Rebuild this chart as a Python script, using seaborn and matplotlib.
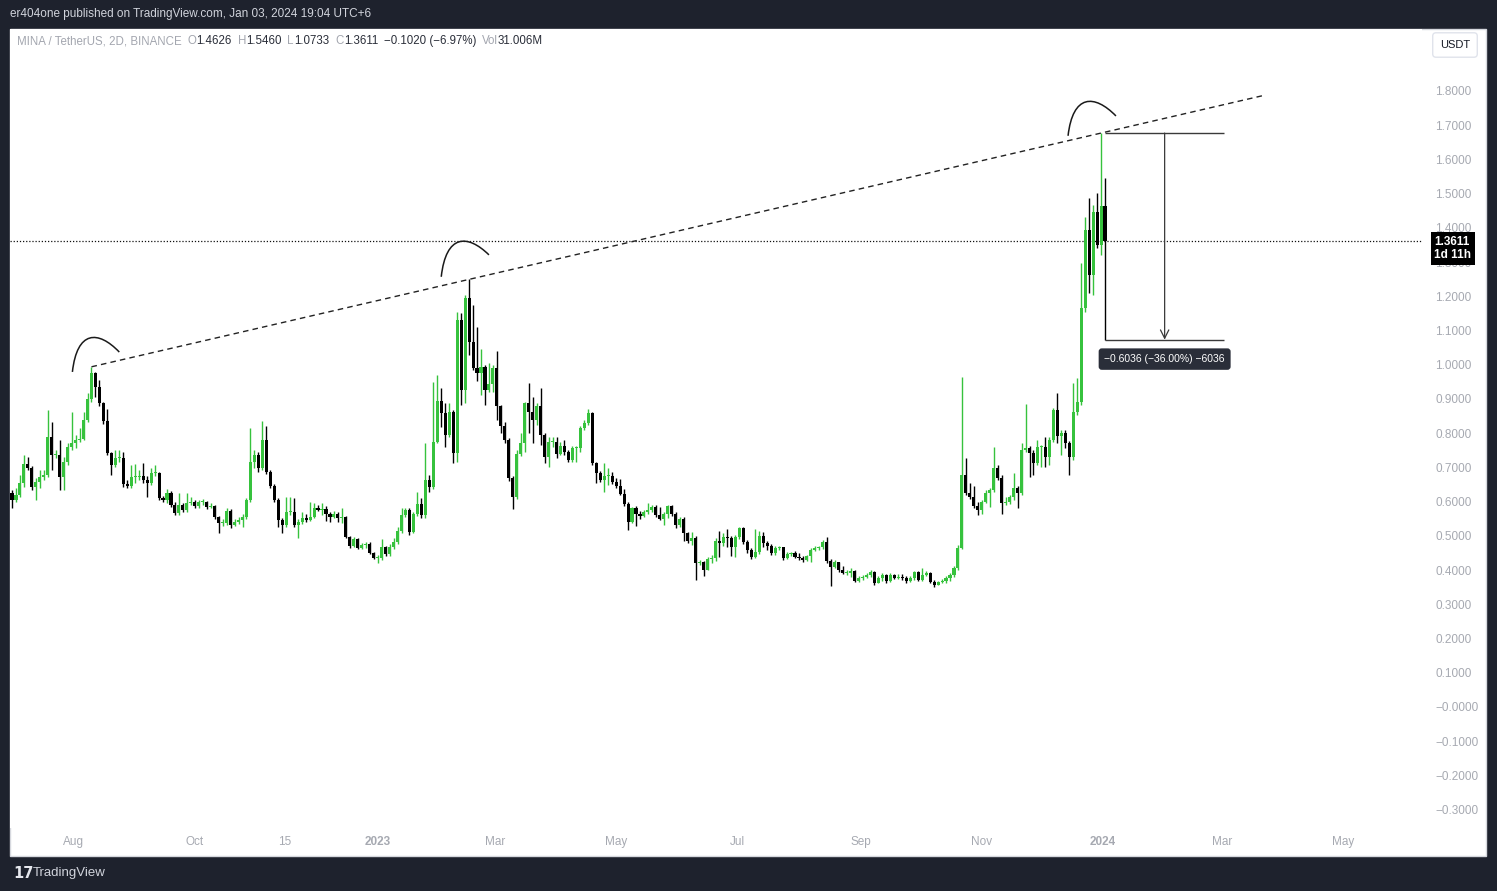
import numpy as np
import pandas as pd
import seaborn as sns
import matplotlib.pyplot as plt
import matplotlib.dates as mdates
from matplotlib.path import Path
from matplotlib.patches import PathPatch, Rectangle

# MINA/USDT 2D candles (open = previous close)
closes = [
    .605, .620, .655, .710, .698, .643, .658, .672, .678, .789,
    .736, .736, .672, .716, .760, .771, .780, .783, .839, .900,
    .976, .935, .888, .836, .742, .707, .728, .728, .652, .646,
    .672, .672, .675, .663, .655, .684, .684, .611, .605, .625,
    .590, .567, .590, .576, .596, .599, .587, .599, .599, .584,
    .587, .555, .538, .538, .573, .532, .541, .546, .555, .605,
    .716, .736, .698, .780, .687, .646, .605, .546, .532, .570,
    .570, .532, .541, .552, .546, .555, .582, .576, .579, .564,
    .555, .564, .552, .555, .497, .471, .491, .465, .473, .476,
    .450, .435, .435, .468, .447, .468, .482, .514, .561, .576,
    .512, .564, .593, .561, .663, .643, .774, .894, .859, .795,
    .862, .742, 1.131, .926, 1.195, 1.067, .991, .976, .994, .926,
    .944, .991, .880, .821, .780, .669, .614, .739, .771, .888,
    .862, .839, .880, .795, .731, .774, .774, .739, .763, .745,
    .722, .757, .757, .815, .830, .859, .713, .684, .663, .675,
    .675, .658, .646, .622, .593, .541, .582, .564, .558, .570,
    .576, .584, .561, .549, .564, .587, .564, .532, .549, .508,
    .485, .494, .421, .424, .400, .433, .435, .485, .479, .497,
    .494, .468, .497, .523, .482, .459, .438, .453, .500, .479,
    .471, .450, .465, .468, .435, .447, .450, .438, .435, .430,
    .441, .459, .465, .468, .482, .427, .409, .424, .400, .392,
    .392, .397, .368, .377, .380, .386, .395, .362, .377, .386,
    .368, .386, .377, .380, .377, .368, .377, .395, .371, .386,
    .392, .365, .357, .365, .368, .377, .386, .406, .465, .678,
    .625, .614, .587, .576, .599, .625, .634, .698, .669, .596,
    .599, .614, .640, .625, .751, .757, .742, .713, .760, .760,
    .731, .780, .868, .792, .801, .771, .731, .862, .891, 1.166,
    1.394, 1.262, 1.447, 1.350, 1.4626, 1.3611,
]
highs = [
    .634, .640, .678, .736, .731, .704, .669, .693, .693, .868,
    .833, .751, .780, .731, .771, .862, .795, .815, .862, .918,
    .994, .979, .956, .891, .871, .745, .751, .751, .745, .663,
    .707, .710, .693, .713, .675, .698, .707, .687, .617, .637,
    .631, .599, .625, .596, .625, .614, .605, .605, .608, .602,
    .596, .590, .558, .549, .582, .579, .549, .555, .564, .611,
    .815, .751, .745, .836, .821, .693, .652, .611, .552, .614,
    .614, .611, .549, .570, .564, .599, .596, .590, .596, .587,
    .570, .573, .570, .582, .558, .500, .497, .494, .479, .482,
    .482, .453, .444, .491, .471, .476, .494, .526, .582, .582,
    .582, .570, .628, .611, .771, .678, .950, .970, .932, .888,
    .888, .868, 1.154, 1.151, 1.204, 1.251, 1.175, 1.111, 1.046, .999,
    1.005, .999, 1.040, .883, .833, .786, .675, .751, .801, .891,
    .947, .906, .888, .932, .801, .789, .789, .789, .774, .780,
    .751, .763, .763, .821, .839, .871, .862, .716, .690, .713,
    .698, .687, .669, .666, .637, .599, .584, .587, .573, .576,
    .596, .590, .590, .584, .570, .590, .590, .570, .555, .555,
    .511, .511, .500, .430, .427, .438, .444, .494, .514, .508,
    .520, .500, .503, .526, .526, .488, .465, .520, .514, .511,
    .485, .476, .471, .471, .468, .453, .453, .456, .450, .441,
    .444, .465, .471, .471, .488, .497, .433, .430, .424, .412,
    .400, .406, .400, .383, .386, .392, .400, .397, .383, .392,
    .389, .392, .389, .389, .389, .383, .383, .397, .397, .406,
    .397, .395, .371, .368, .374, .383, .392, .412, .473, .964,
    .728, .655, .646, .599, .605, .634, .640, .760, .707, .678,
    .614, .620, .684, .646, .771, .886, .763, .751, .780, .766,
    .789, .789, .874, .918, .809, .809, .777, .947, .961, 1.298,
    1.432, 1.487, 1.467, 1.502, 1.6769, 1.546,
]
lows = [
    .582, .599, .614, .643, .693, .634, .605, .640, .663, .672,
    .693, .728, .634, .634, .707, .751, .757, .774, .780, .833,
    .891, .906, .880, .827, .736, .678, .701, .716, .643, .640,
    .640, .655, .663, .655, .614, .649, .675, .605, .599, .596,
    .584, .561, .561, .570, .570, .590, .582, .582, .590, .579,
    .582, .549, .508, .529, .532, .523, .529, .535, .526, .549,
    .599, .698, .687, .693, .681, .640, .599, .526, .508, .526,
    .561, .526, .494, .535, .541, .544, .552, .573, .561, .544,
    .541, .552, .541, .538, .494, .465, .468, .462, .462, .465,
    .447, .433, .421, .430, .441, .441, .462, .476, .508, .555,
    .503, .508, .558, .552, .552, .628, .637, .771, .818, .760,
    .789, .713, .716, .883, .888, 1.029, .985, .953, .912, .883,
    .921, .921, .839, .801, .771, .661, .579, .608, .734, .745,
    .801, .771, .824, .766, .713, .701, .760, .728, .736, .736,
    .716, .716, .716, .745, .809, .824, .707, .655, .658, .628,
    .649, .652, .640, .620, .587, .517, .538, .529, .549, .555,
    .564, .570, .555, .546, .532, .552, .558, .523, .526, .485,
    .479, .473, .371, .415, .383, .400, .421, .427, .438, .471,
    .468, .441, .438, .491, .476, .450, .433, .435, .447, .468,
    .459, .444, .444, .459, .430, .433, .441, .435, .430, .424,
    .427, .424, .456, .459, .462, .421, .354, .406, .395, .389,
    .386, .380, .365, .365, .371, .377, .380, .357, .362, .368,
    .362, .365, .374, .374, .371, .362, .365, .371, .368, .368,
    .383, .362, .351, .357, .362, .362, .368, .380, .400, .462,
    .620, .608, .582, .561, .564, .596, .584, .628, .663, .564,
    .590, .593, .605, .582, .620, .745, .672, .678, .707, .701,
    .701, .707, .774, .771, .736, .757, .678, .722, .853, .883,
    1.154, 1.210, 1.204, 1.341, 1.321, 1.0733,
]
first_open = 0.625
last_date = pd.Timestamp('2024-01-02')

# peaks the trendline and the arcs are drawn on
peak_idx = [20, 115, 274]
trend_end = pd.Timestamp('2024-03-21')
# arcs: (peak, days left, days right, start/top/end offset over the peak high)
arcs = [
    (20, -9.6, 14.0, -0.015, 0.084, 0.043),
    (115, -14.0, 10.0, 0.006, 0.108, 0.070),
    (274, -16.6, 7.5, -0.008, 0.091, 0.050),
]
measure_days = 60
measure_label = '\u22120.6036 (\u221236.00%) \u22126036'

price_ticks = [1.8, 1.7, 1.6, 1.5, 1.4, 1.3, 1.2, 1.1, 1.0, 0.9, 0.8, 0.7, 0.6,
               0.5, 0.4, 0.3, 0.2, 0.1, 0.0, -0.1, -0.2, -0.3]
price_labels = ['1.8000', '1.7000', '1.6000', '1.5000', '1.4000', '1.3000',
                '1.2000', '1.1000', '1.0000', '0.9000', '0.8000', '0.7000',
                '0.6000', '0.5000', '0.4000', '0.3000', '0.2000', '0.1000',
                '\u22120.0000', '\u22120.1000', '\u22120.2000', '\u22120.3000']
time_ticks = ['2022-08-01', '2022-10-01', '2022-11-15', '2023-01-01', '2023-03-01',
              '2023-05-01', '2023-07-01', '2023-09-01', '2023-11-01', '2024-01-01',
              '2024-03-01', '2024-05-01']
time_labels = ['Aug', 'Oct', '15', '2023', 'Mar', 'May', 'Jul', 'Sep', 'Nov',
               '2024', 'Mar', 'May']

# legend line of the symbol: (text, is_value)
legend_items = [('MINA / TetherUS, 2D, BINANCE', False), ('O', False), ('1.4626', True),
                ('H', False), ('1.5460', True), ('L', False), ('1.0733', True),
                ('C', False), ('1.3611', True), ('\u22120.1020 (\u22126.97%)', True),
                ('Vol', False), ('31.006M', True)]

sns.set_theme(style='white')
plt.rcParams['font.family'] = ['Liberation Sans', 'DejaVu Sans']

df = pd.DataFrame({'close': closes, 'high': highs, 'low': lows})
df['date'] = pd.date_range(end=last_date, periods=len(df), freq='2D')
df['open'] = df['close'].shift(1).fillna(first_open)
df['x'] = mdates.date2num(df['date'])

green = '#36c23d'
black = '#000000'
dark_bg = '#1e222d'
axis_grey = '#a6a9b1'

W, H = 1497, 891
fig = plt.figure(figsize=(W / 100, H / 100), dpi=100, facecolor=dark_bg)
panel = Rectangle((10 / W, 1 - 856 / H), 1476 / W, 827 / H,
                  transform=fig.transFigure, facecolor='white',
                  edgecolor='#d6d8de', linewidth=1, zorder=-10)
fig.patches.append(panel)
ax = fig.add_axes([10 / W, 1 - 828 / H, 1412 / W, 799 / H])
ax.set_zorder(1)
ax.set_facecolor('white')
for s in ax.spines.values():
    s.set_visible(False)

# candles
up = df['close'] >= df['open']
colors = np.where(up, green, black)
body_lo = np.minimum(df['open'], df['close'])
body_h = np.maximum((df['close'] - df['open']).abs(), 0.0025)
ax.vlines(df['x'], df['low'], df['high'], colors=colors, linewidth=1.0, zorder=3)
ax.bar(df['x'], body_h, bottom=body_lo, width=1.55, color=colors, linewidth=0, zorder=4)

# dashed trendline through the peak highs
x0, y0 = df['x'][peak_idx[0]], df['high'][peak_idx[0]]
x1, y1 = df['x'][peak_idx[-1]], df['high'][peak_idx[-1]]
xe = mdates.date2num(trend_end)
ye = y0 + (y1 - y0) * (xe - x0) / (x1 - x0)
trend = pd.DataFrame({'x': [x0, xe], 'y': [y0, ye]})
sns.lineplot(data=trend, x='x', y='y', ax=ax, color='#222222', linewidth=1.0,
             linestyle=(0, (4, 3)), zorder=5)

# arcs over the peaks
for idx, dl, dr, o0, ot, o1 in arcs:
    px, ph = df['x'][idx], df['high'][idx]
    xa, xb = px + dl, px + dr
    ya, yt, yb = ph + o0, ph + ot, ph + o1
    w = xb - xa
    yc = (yt - 0.125 * (ya + yb)) / 0.75
    path = Path([(xa, ya), (xa + 0.1 * w, yc), (xa + 0.55 * w, yc), (xb, yb)],
                [Path.MOVETO, Path.CURVE4, Path.CURVE4, Path.CURVE4])
    ax.add_patch(PathPatch(path, facecolor='none', edgecolor='#1a1a1a',
                           linewidth=1.1, zorder=5))

# last price line
last = df.iloc[-1]
ax.axhline(last['close'], color='#111111', linestyle=(0, (1, 1.5)), linewidth=0.9, zorder=2)

# price range tool
top = df['high'].iloc[-2]
bot = last['low']
mx0 = last['x']
mx1 = mx0 + measure_days
mxm = mx0 + measure_days / 2
ax.hlines([top, bot], mx0, mx1, color='#3a3a3a', linewidth=1.0, zorder=5)
ax.annotate('', xy=(mxm, bot), xytext=(mxm, top),
            arrowprops=dict(arrowstyle='->,head_length=0.5,head_width=0.25',
                            color='#3a3a3a', linewidth=0.9, shrinkA=0, shrinkB=0),
            zorder=5)
ax.annotate(measure_label, xy=(mxm, bot), xytext=(0, -14), textcoords='offset points',
            ha='center', va='center', fontsize=7.5, color='white',
            bbox=dict(boxstyle='round,pad=0.55,rounding_size=0.3',
                      facecolor='#2a2e39', edgecolor='none'), zorder=6)

# axes
ax.set_xlim(mdates.date2num(last_date - pd.Timedelta(days=551)),
            mdates.date2num(last_date + pd.Timedelta(days=159.5)))
ax.set_ylim(-0.3536, 1.981)
ax.yaxis.tick_right()
ax.set_yticks(price_ticks)
ax.set_yticklabels(price_labels, fontsize=8.5, color=axis_grey)
ax.set_xticks(mdates.date2num(pd.to_datetime(time_ticks)))
ax.set_xticklabels(time_labels, fontsize=8.5, color=axis_grey)
for lab in ax.get_xticklabels():
    if lab.get_text().isdigit() and len(lab.get_text()) == 4:
        lab.set_fontweight('bold')
ax.tick_params(axis='y', length=0, pad=9.5)
ax.tick_params(axis='x', length=0, pad=6)
ax.set_xlabel('')
ax.set_ylabel('')
ax.grid(False)

# last price tag
ax.annotate(f"{last['close']:.4f}\n1d 11h", xy=(1, last['close']),
            xycoords=('axes fraction', 'data'), xytext=(9, -5.4),
            textcoords='offset points', ha='left', va='center', fontsize=8.5,
            fontweight='bold', color='white', linespacing=1.15,
            bbox=dict(boxstyle='square,pad=0.3', facecolor='black', edgecolor='none'),
            annotation_clip=False, zorder=10)

# currency box
fig.text(1455 / W, 1 - 45 / H, 'USDT', ha='center', va='center', fontsize=8,
         color='#131722', zorder=5,
         bbox=dict(boxstyle='round,pad=0.65,rounding_size=0.3', facecolor='white',
                   edgecolor='#e0e3eb', linewidth=1))

# header texts
fig.text(10 / W, 1 - 14 / H, 'er404one published on TradingView.com, Jan 03, 2024 19:04 UTC+6',
         ha='left', va='center', fontsize=8.5, color='#d1d4dc')

renderer = fig.canvas.get_renderer()
legend_grey = '#a3a6af'
legend_dark = '#2a2e39'
cursor = 17
for k, (txt, is_val) in enumerate(legend_items):
    t = fig.text(cursor / W, 1 - 41 / H, txt, ha='left', va='center', fontsize=8.3,
                 color=legend_dark if is_val else legend_grey, zorder=5)
    width = t.get_window_extent(renderer).width
    nxt_is_val = k + 1 < len(legend_items) and legend_items[k + 1][1]
    gap = 0.5 if (not is_val and nxt_is_val and k > 0) else 5.5
    cursor += width + gap

# footer logo
fig.text(13 / W, 1 - 873 / H, '17', ha='left', va='center', fontsize=10.5,
         fontweight='heavy', color='#e6e8ee', family='DejaVu Sans')
fig.text(33 / W, 1 - 873 / H, 'TradingView', ha='left', va='center', fontsize=9.5,
         color='#d1d4dc')

fig.savefig('out.png', dpi=100, facecolor=dark_bg)
